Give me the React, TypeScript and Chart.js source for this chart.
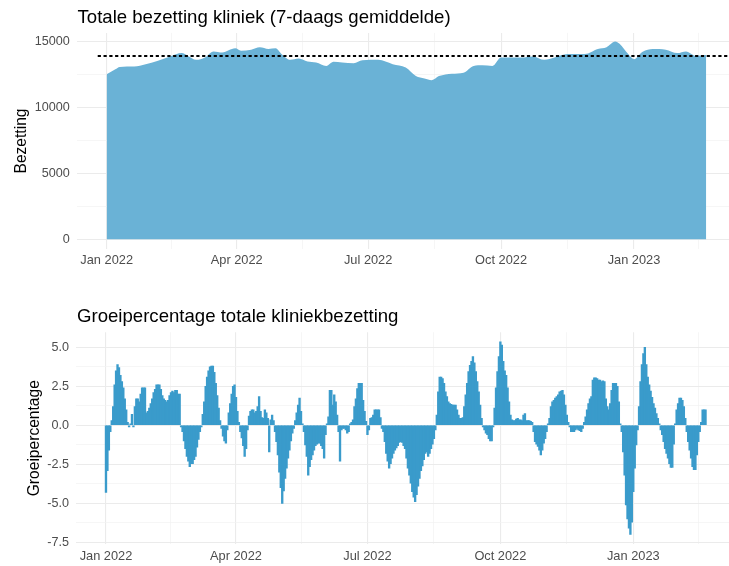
import React, { useEffect, useRef } from 'react';
import { Chart, registerables } from 'chart.js';

Chart.register(...registerables);

// ---------- data ----------
const X_MAJOR_DAYS = [0, 90, 181, 273, 365]; // days since 1 Jan 2022
const X_MAJOR_LABELS = ['Jan 2022', 'Apr 2022', 'Jul 2022', 'Oct 2022', 'Jan 2023'];
const X_MINOR_DAYS = [45, 135.5, 227, 319, 410];

const OCC_Y_MAJOR = [0, 5000, 10000, 15000];
const OCC_Y_MINOR = [2500, 7500, 12500];
const GROW_Y_MAJOR = [-7.5, -5, -2.5, 0, 2.5, 5];
const GROW_Y_MINOR = [-6.25, -3.75, -1.25, 1.25, 3.75];

const TITLE_TOP = 'Totale bezetting kliniek (7-daags gemiddelde)';
const TITLE_BOTTOM = 'Groeipercentage totale kliniekbezetting';
const YTITLE_TOP = 'Bezetting';
const YTITLE_BOTTOM = 'Groeipercentage';

// 7-day average occupancy (sampled days since 1 Jan 2022)
const OCC_DAYS = [0, 6, 9, 19, 27, 35, 44, 52, 56, 62, 68, 74, 80, 89, 93, 100, 106, 112, 117, 121, 127, 133, 139, 145, 152, 157, 163, 171, 177, 188, 198, 207, 214, 220, 225, 230, 239, 247, 254, 260, 267, 273, 287, 295, 303, 310, 319, 331, 340, 346, 352, 355, 361, 365, 371, 378, 387, 395, 401, 408, 415];
const OCC_VALUES = [12490, 12870, 13050, 13080, 13260, 13510, 13850, 14100, 13900, 13590, 13770, 14230, 14150, 14460, 14280, 14360, 14540, 14410, 14460, 14030, 13590, 13690, 13460, 13380, 13130, 13440, 13380, 13330, 13560, 13590, 13260, 13000, 12360, 12180, 12050, 12360, 12540, 12620, 13130, 13180, 13130, 13770, 13770, 13850, 13590, 13770, 14030, 14030, 14410, 14540, 14970, 14800, 14030, 13640, 14200, 14410, 14360, 14100, 14230, 13900, 13950];

const REF_LEVEL = 13880;
const REF_START_DAY = -6.2;
const REF_END_DAY = 460;

// daily growth percentage, day 0 = 1 Jan 2022
const GROWTH = [
  -4.3, -2.9, -1.6, -0.4, 0.3, 1.2, 2.6, 3.5, 3.9, 3.7,
  3.2, 2.8, 2.4, 1.7, 1.0, 0.2, -0.1, 0.1, 0.7, -0.1,
  1.2, 1.7, 1.7, 1.5, 2.0, 2.4, 2.4, 2.4, 0.8, 0.9,
  1.1, 1.4, 1.7, 2.1, 2.3, 2.6, 2.6, 2.6, 2.3, 1.9,
  1.7, 1.6, 1.5, 1.6, 1.9, 2.1, 2.2, 2.1, 2.25, 2.25,
  2.0, 2.0, -0.1, -0.4, -1.0, -1.5, -2.0, -2.3, -2.65, -2.45,
  -2.45, -2.2, -2.0, -1.4, -0.9, -0.4, -0.1, 0.7, 1.5, 2.5,
  3.1, 3.5, 3.75, 3.8, 3.8, 3.4, 2.7, 1.9, 1.1, 0.3,
  -0.2, -0.7, -1.0, -1.15, -0.3, 0.8, 1.4, 2.0, 2.5, 2.6,
  1.8, 0.9, 0.2, -0.4, -0.8, -1.3, -2.0, -1.5, -0.3, 0.6,
  0.9, 1.0, 1.0, 0.8, 0.9, 1.2, 1.85, 0.9, 0.5, 0.45,
  1.0, 0.8, 0.45, -1.7, 0.35, 0.65, 0.3, -0.4, -1.05, -1.9,
  -3.0, -4.0, -5.0, -4.2, -3.4, -2.75, -2.1, -1.6, -1.0, -0.5,
  -0.2, 0.3, 0.8, 1.3, 1.75, 0.9, 0.1, -0.4, -1.25, -2.0,
  -3.2, -2.65, -2.2, -1.9, -1.6, -1.3, -1.2, -1.15, -1.15, -1.3,
  -1.5, -2.1, -0.6, 0.1, 0.55, 2.25, 2.25, 1.3, 1.95, 1.5,
  0.65, -0.4, -2.3, -0.3, -0.2, -0.2, -0.3, -0.5, -0.4, 0.1,
  0.2, 0.35, 1.2, 1.7, 2.35, 2.7, 2.7, 2.7, 1.6, 0.9,
  0.25, -0.6, -0.3, 0.45, 0.5, 0.65, 1.0, 1.0, 1.0, 1.0,
  0.5, -0.2, -0.4, -1.05, -1.8, -2.3, -2.75, -2.45, -2.1, -1.8,
  -1.6, -1.45, -1.3, -1.1, -1.05, -1.1, -1.3, -1.5, -2.1, -2.75,
  -3.2, -3.7, -4.25, -4.6, -4.9, -4.45, -3.9, -3.4, -2.9, -2.6,
  -2.2, -1.8, -1.7, -2.0, -1.8, -1.5, -1.2, -0.85, -0.3, 0.65,
  2.15, 3.1, 3.1, 3.0, 2.7, 2.15, 1.85, 1.5, 1.4, 1.35,
  1.3, 1.3, 1.3, 1.0, 0.65, 0.45, 0.45, 0.5, 1.2, 1.95,
  2.7, 3.45, 3.85, 4.1, 4.4, 4.0, 3.45, 2.8, 2.15, 1.3,
  0.45, -0.1, -0.3, -0.5, -0.6, -0.85, -1.0, -1.0, -0.1, 1.1,
  2.4, 3.45, 4.4, 5.35, 5.15, 4.1, 3.5, 3.2, 2.4, 1.5,
  0.65, 0.35, 0.3, 0.3, 0.4, 0.45, 0.35, 0.35, 0.3, 0.65,
  0.75, 0.3, 0.3, 0.3, 0.25, 0.2, -0.4, -1.05, -1.2, -1.35,
  -1.6, -1.9, -1.6, -1.15, -0.85, -0.4, 0.1, 0.45, 1.2, 1.5,
  1.6, 1.75, 1.85, 1.95, 2.15, 2.2, 2.25, 1.95, 1.3, 0.65,
  0.2, -0.1, -0.4, -0.4, -0.4, -0.3, -0.2, -0.3, -0.35, -0.4,
  -0.2, 0.2, 0.55, 1.0, 1.4, 1.7, 1.85, 2.9, 3.05, 3.05,
  3.0, 2.9, 2.9, 2.8, 2.85, 2.8, 1.7, 1.2, 1.0, 1.4,
  2.25, 2.7, 2.7, 2.7, 2.5, 1.5, 0.1, -0.4, -1.7, -3.2,
  -5.1, -6.0, -6.6, -7.0, -6.2, -4.25, -2.75, -1.25, -0.3, 1.2,
  2.8, 3.9, 4.6, 5.0, 3.9, 3.1, 2.6, 2.2, 1.8, 1.4,
  1.1, 0.75, 0.45, 0.1, -0.3, -0.6, -1.05, -1.5, -1.8, -2.1,
  -2.45, -2.7, -2.7, -1.2, 0.1, 1.0, 1.4, 1.75, 1.75, 1.6,
  1.2, 0.45, -0.4, -1.05, -1.6, -2.1, -2.65, -2.85, -2.85, -1.9,
  -1.05, -0.4, 0.2, 1.0, 1.0, 1.0,
];

// ---------- styling ----------
const FONT = "'Liberation Sans', Arial, Helvetica, sans-serif";
const AREA_COLOR = '#6AB2D6';
const BAR_COLOR = '#3A9BCB';
const TICK_COLOR = '#4D4D4D';
const X_MIN = -20.75;
const X_MAX = 435.75;
const CANVAS_W = 745;
const CANVAS_H = 283;

const gridColor = (ctx: any) => (ctx.tick && ctx.tick.minor ? '#F2F2F2' : '#EBEBEB');
const gridWidth = (ctx: any) => (ctx.tick && ctx.tick.minor ? 0.7 : 1.1);

const panelTitle = {
  id: 'panelTitle',
  afterDraw(chart: any, _args: any, opts: any) {
    const { ctx } = chart;
    ctx.save();
    ctx.font = `18.6px ${FONT}`;
    ctx.fillStyle = '#000000';
    ctx.textAlign = 'left';
    ctx.textBaseline = 'alphabetic';
    ctx.fillText(opts.text, opts.x, opts.y);
    ctx.restore();
  },
};

function xScale(height: number, pad: number) {
  return {
    type: 'linear',
    min: X_MIN,
    max: X_MAX,
    offset: false,
    afterBuildTicks: (s: any) => {
      const t = [
        ...X_MAJOR_DAYS.map((v) => ({ value: v })),
        ...X_MINOR_DAYS.map((v) => ({ value: v, minor: true })),
      ];
      t.sort((a, b) => a.value - b.value);
      s.ticks = t;
    },
    afterFit: (s: any) => {
      s.height = height;
    },
    ticks: {
      autoSkip: false,
      maxRotation: 0,
      minRotation: 0,
      padding: pad,
      color: TICK_COLOR,
      font: { size: 12.8, family: FONT },
      callback: (v: number) => {
        const i = X_MAJOR_DAYS.indexOf(v);
        return i >= 0 ? X_MAJOR_LABELS[i] : '';
      },
    },
    grid: { color: gridColor, lineWidth: gridWidth, drawTicks: false, offset: false },
    border: { display: false },
  };
}

function yScale(
  min: number,
  max: number,
  majors: number[],
  minors: number[],
  fmt: (v: number) => string,
  title: string,
  titlePad: number,
  width: number
) {
  return {
    type: 'linear',
    min,
    max,
    afterBuildTicks: (s: any) => {
      const t = [
        ...majors.map((v) => ({ value: v })),
        ...minors.map((v) => ({ value: v, minor: true })),
      ];
      t.sort((a, b) => a.value - b.value);
      s.ticks = t;
    },
    afterFit: (s: any) => {
      s.width = width;
    },
    ticks: {
      autoSkip: false,
      padding: 7,
      color: TICK_COLOR,
      font: { size: 12.6, family: FONT },
      callback: (v: number) => (majors.indexOf(v) >= 0 ? fmt(v) : ''),
    },
    title: {
      display: true,
      text: title,
      color: '#000000',
      font: { size: 15.6, family: FONT },
      padding: { top: titlePad, bottom: 0 },
    },
    grid: { color: gridColor, lineWidth: gridWidth, drawTicks: false },
    border: { display: false },
  };
}

export default function App() {
  const topRef = useRef<HTMLCanvasElement>(null);
  const botRef = useRef<HTMLCanvasElement>(null);

  useEffect(() => {
    const top = new Chart(topRef.current as HTMLCanvasElement, {
      type: 'line',
      data: {
        datasets: [
          {
            data: OCC_DAYS.map((d, i) => ({ x: d, y: OCC_VALUES[i] })),
            fill: 'origin',
            backgroundColor: AREA_COLOR,
            borderWidth: 0,
            pointRadius: 0,
            cubicInterpolationMode: 'monotone',
            order: 2,
          },
          {
            data: [
              { x: REF_START_DAY, y: REF_LEVEL },
              { x: REF_END_DAY, y: REF_LEVEL },
            ],
            borderColor: '#000000',
            borderWidth: 1.9,
            borderDash: [3.2, 2.6],
            pointRadius: 0,
            fill: false,
            order: 1,
          },
        ],
      } as any,
      options: {
        animation: false,
        responsive: false,
        devicePixelRatio: 1,
        layout: { padding: { top: 32.9, bottom: 0, left: 0, right: CANVAS_W - 736.2 } },
        plugins: {
          legend: { display: false },
          tooltip: { enabled: false },
          panelTitle: { text: TITLE_TOP, x: 77.5, y: 22.7 },
        } as any,
        scales: {
          x: xScale(CANVAS_H - 249.1, 3.5),
          y: yScale(-745, 15630, OCC_Y_MAJOR, OCC_Y_MINOR, (v) => String(v), YTITLE_TOP, 12, 76.7),
        } as any,
      },
      plugins: [panelTitle],
    });

    const bottom = new Chart(botRef.current as HTMLCanvasElement, {
      type: 'bar',
      data: {
        datasets: [
          {
            data: GROWTH.map((v, i) => ({ x: i, y: v })),
            backgroundColor: BAR_COLOR,
            borderWidth: 0,
            barThickness: 1.7,
          },
        ],
      } as any,
      options: {
        animation: false,
        responsive: false,
        devicePixelRatio: 1,
        layout: { padding: { top: 332.2 - CANVAS_H, bottom: 0, left: 0, right: CANVAS_W - 735.5 } },
        plugins: {
          legend: { display: false },
          tooltip: { enabled: false },
          panelTitle: { text: TITLE_BOTTOM, x: 77, y: 321.7 - CANVAS_H },
        } as any,
        scales: {
          x: xScale(CANVAS_H - (544.2 - CANVAS_H), 4.3),
          y: yScale(-7.62, 5.97, GROW_Y_MAJOR, GROW_Y_MINOR, (v) => v.toFixed(1), YTITLE_BOTTOM, 25.5, 76),
        } as any,
      },
      plugins: [panelTitle],
    });

    return () => {
      top.destroy();
      bottom.destroy();
    };
  }, []);

  return (
    <div
      style={{
        position: 'absolute',
        left: 0,
        top: 0,
        width: 729,
        height: 566,
        overflow: 'hidden',
        background: '#ffffff',
      }}
    >
      <canvas
        ref={topRef}
        width={CANVAS_W}
        height={CANVAS_H}
        style={{ position: 'absolute', left: 0, top: 0, width: CANVAS_W, height: CANVAS_H }}
      />
      <canvas
        ref={botRef}
        width={CANVAS_W}
        height={CANVAS_H}
        style={{ position: 'absolute', left: 0, top: CANVAS_H, width: CANVAS_W, height: CANVAS_H }}
      />
    </div>
  );
}
